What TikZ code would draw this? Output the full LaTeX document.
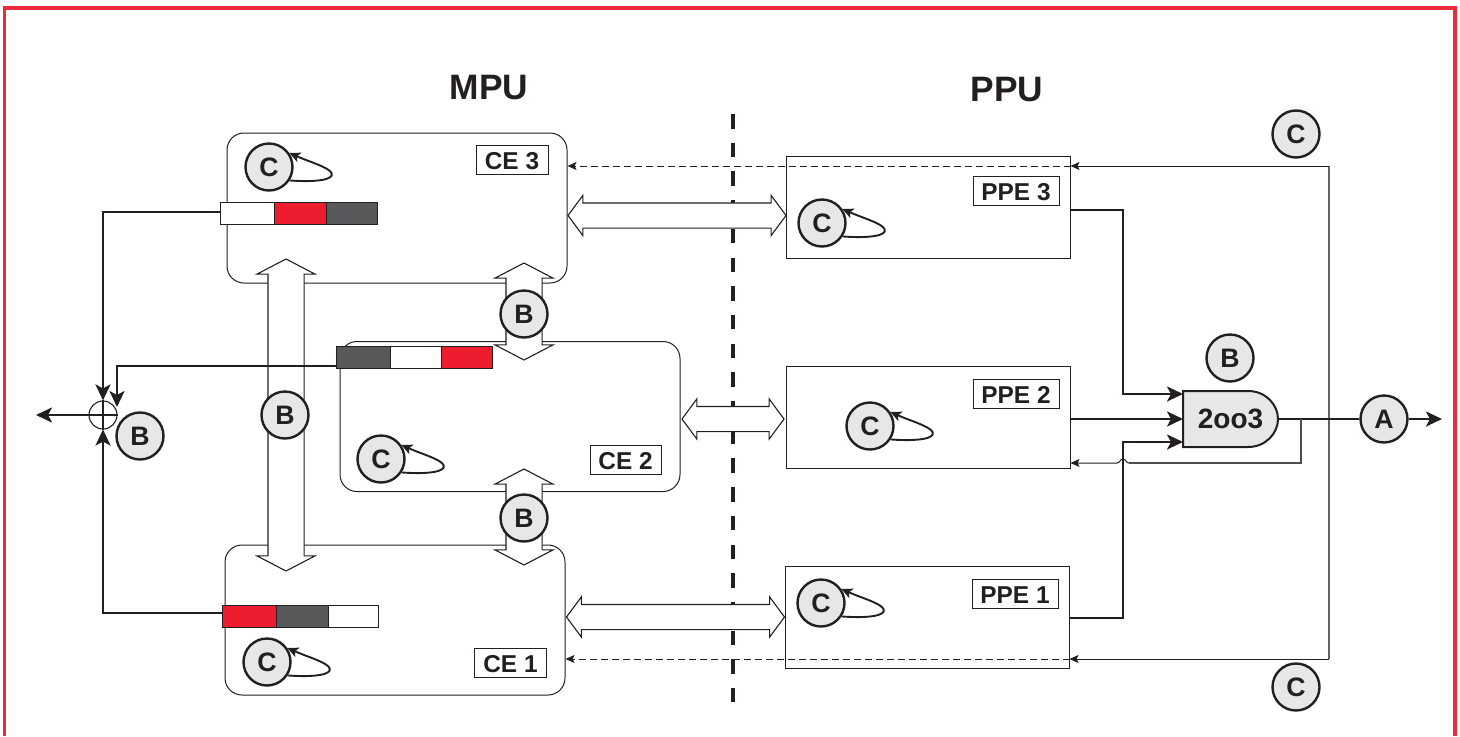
\documentclass[tikz,border=0pt]{standalone}
\usepackage{fontspec}
\setmainfont{Liberation Sans}
\usetikzlibrary{arrows.meta,shapes.arrows}
\definecolor{brdred}{HTML}{ED2A3A}
\definecolor{barred}{HTML}{ED1C2E}
\definecolor{bargrey}{HTML}{58595B}
\definecolor{badgegrey}{HTML}{E6E7E8}
\definecolor{inkk}{HTML}{231F20}
\def\U{*0.75pt}
\tikzset{
  x=0.75pt,y=-0.75pt,
  every node/.style={text=inkk},
  ce/.style={draw=inkk,line width=1\U,rounded corners=17\U,inner sep=0pt,minimum width=340\U,minimum height=150\U},
  ppe/.style={draw=inkk,line width=1\U,inner sep=0pt,minimum width=284\U,minimum height=102\U},
  tag/.style={draw=inkk,line width=1\U,fill=white,inner sep=0pt,minimum height=29\U,text height=14.6pt,text depth=0pt,font=\fontsize{18.3pt}{18pt}\selectfont\bfseries},
  badge/.style={circle,draw=inkk,line width=2.4\U,fill=badgegrey,inner sep=0pt,minimum size=47\U,font=\fontsize{20pt}{20pt}\selectfont\bfseries},
  seg/.style={draw=inkk,line width=1\U,inner sep=0pt,outer sep=0pt,minimum width=#1\U,minimum height=22\U},
  title/.style={font=\fontsize{26.5pt}{26pt}\selectfont\bfseries},
  blockarrow/.style={double arrow,draw=inkk,line width=1.1\U,fill=white,inner xsep=0pt,outer sep=0pt},
  harrow/.style={blockarrow,inner ysep=12\U,minimum height=#1\U,minimum width=39\U,double arrow head extend=7.5\U,double arrow tip angle=107},
  varrow/.style={blockarrow,inner ysep=17.5\U,rotate=90,minimum height=#1\U,minimum width=58\U,double arrow head extend=11\U,double arrow tip angle=125},
  power/.style={draw=inkk,line width=2.6\U,-{Stealth[length=16\U,width=15\U,inset=4\U]}},
  feed/.style={draw=inkk,line width=1\U,-{Stealth[length=9\U,width=8\U,inset=2\U]}},
  feeddash/.style={feed,line width=0.9\U,dash pattern=on 7\U off 4\U},
  loopline/.style={draw=inkk,line width=1.9\U,-{Stealth[length=11\U,width=10\U,inset=2.5\U]}},
}
\newcommand{\selfloop}[1]{\draw[loopline] (#1.-33) .. controls +(28,2) and +(2,6) .. +(42,-7) .. controls +(-2,-6) and +(20,9) .. (#1.35);}
\begin{document}
\begin{tikzpicture}
\useasboundingbox (0,0) rectangle (1460,736);
% frame
\coordinate (fa) at (4.5,736);
\coordinate (fb) at (1455,736);
\draw[brdred,line width=3.2\U] (fa) |- (1455,8) -- (fb);
% divider
\coordinate (da) at (733,114);
\coordinate (db) at (733,702);
\draw[inkk,line width=4\U,dash pattern=on 14.5\U off 14.2\U] (da) -- (db);
% titles
\node[title] (mpu) at (489,88) {MPU};
\node[title] (ppu) at (1007,90) {PPU};
% CE boxes
\node[ce] (ce3) at (397,208) {};
\node[ce] (ce2) at (510,416.5) {};
\node[ce] (ce1) at (395,620) {};
% PPE boxes
\node[ppe] (ppe3) at (928,207) {};
\node[ppe] (ppe2) at (928,417) {};
\node[ppe] (ppe1) at (927,617) {};
% feedback rails
\coordinate (railt) at (1329,166);
\coordinate (railb) at (1329,659);
\draw[inkk!70,line width=1.3\U] (railt) -- (railb);
\draw[feed] (railt) -- (ppe3.east |- railt);
\draw[feed] (railb) -- (ppe1.east |- railb);
\draw[feeddash] (ppe3.east |- railt) -- (ce3.east |- railt);
\draw[feeddash] (ppe1.east |- railb) -- (ce1.east |- railb);
% block arrows
\node[harrow=218] (h3) at (677,215.5) {};
\node[harrow=218] (h1) at (675.5,617) {};
\node[harrow=102] (h2) at (733,419) {};
\node[varrow=312] (v0) at (286,415) {};
\node[varrow=97] (v32) at (524,311.5) {};
\node[varrow=96] (v21) at (524,517) {};
% tags
\node[tag,minimum width=72\U] (t3) at (512,159.5) {CE 3};
\node[tag,minimum width=71\U] (t2) at (625.5,459.5) {CE 2};
\node[tag,minimum width=72\U] (t1) at (510.5,662.5) {CE 1};
\node[tag,minimum width=86\U] (p3) at (1016,191) {PPE 3};
\node[tag,minimum width=86\U] (p2) at (1016,394) {PPE 2};
\node[tag,minimum width=86\U] (p1) at (1015,594) {PPE 1};
% gate
\draw[draw=inkk,line width=2\U,fill=badgegrey] (1183,391) -- (1248,391) .. controls (1266,391) and (1278,405) .. (1278,419) .. controls (1278,433) and (1266,447) .. (1248,447) -- (1183,447) -- cycle;
\node[inner sep=0pt,minimum width=95\U,minimum height=56\U,font=\fontsize{21pt}{21pt}\selectfont\bfseries] (gate) at (1230.5,419) {2oo3};
% voter outputs
\coordinate (g3) at (1183,394);
\coordinate (g2) at (1183,419);
\coordinate (g1) at (1183,442);
\coordinate (j3) at (1123,210);
\coordinate (j1) at (1123,618);
\draw[power] (ppe3.east |- j3) -- (j3) -- (j3 |- g3) -- (g3);
\draw[power] (ppe2.east |- g2) -- (g2);
\draw[power] (ppe1.east |- j1) -- (j1) -- (j1 |- g1) -- (g1);
% output
\node[badge] (A) at (1384,419) {A};
\coordinate (out) at (1442,419);
\draw[draw=inkk,line width=2.6\U] (gate.east) -- (A.west);
\draw[power] (A.east) -- (out);
% voter feedback
\coordinate (fk) at (1301,419);
\coordinate (fl) at (1301,463);
\draw[draw=inkk!80,line width=1.3\U] (fk) -- (fl) -- (1129,463);
\draw[feed] (1129,463) .. controls (1126,463) and (1126,459) .. (1123,459) .. controls (1120,459) and (1120,463) .. (1117,463) -- (ppe2.east |- fl);
% bars
\node[seg=54,anchor=north west,fill=white] (b31) at (220,202) {};
\node[seg=52,anchor=west,fill=barred] (b32) at (b31.east) {};
\node[seg=51,anchor=west,fill=bargrey] (b33) at (b32.east) {};
\node[seg=54,anchor=north west,fill=bargrey] (b21) at (336,346) {};
\node[seg=51,anchor=west,fill=white] (b22) at (b21.east) {};
\node[seg=51,anchor=west,fill=barred] (b23) at (b22.east) {};
\node[seg=54,anchor=north west,fill=barred] (b11) at (222,605) {};
\node[seg=52,anchor=west,fill=bargrey] (b12) at (b11.east) {};
\node[seg=50,anchor=west,fill=white] (b13) at (b12.east) {};
% sum junction
\node[circle,draw=inkk,line width=1.1\U,inner sep=0pt,minimum size=28\U] (sum) at (103,415) {};
\draw[draw=inkk,line width=1.1\U] (sum.north) -- (sum.south);
\draw[draw=inkk,line width=1.1\U] (sum.west) -- (sum.east);
\coordinate (sout) at (36,415);
\draw[power] (sum.west) -- (sout);
\coordinate (c3) at (103,212);
\coordinate (c2) at (117,366);
\coordinate (c1) at (103,613);
\coordinate (c2e) at (117,407);
\draw[power] (b31.west |- c3) -- (c3) -- (sum.north);
\draw[power] (b21.west |- c2) -- (c2) -- (c2e);
\draw[power] (b11.west |- c1) -- (c1) -- (sum.south);
% badges
\node[badge] (cc3) at (269,167) {C};
\node[badge] (cc2) at (381,459) {C};
\node[badge] (cc1) at (267,662) {C};
\node[badge] (cp3) at (822,223) {C};
\node[badge] (cp2) at (870,426) {C};
\node[badge] (cp1) at (821,603) {C};
\node[badge] (ct) at (1296,134) {C};
\node[badge] (cb) at (1296,687) {C};
\selfloop{cc3}
\selfloop{cc2}
\selfloop{cc1}
\selfloop{cp3}
\selfloop{cp2}
\selfloop{cp1}
\node[badge] (b1) at (524,314) {B};
\node[badge] (b2) at (285,415) {B};
\node[badge] (b3) at (140,436) {B};
\node[badge] (b4) at (524,518) {B};
\node[badge] (b5) at (1230,358) {B};
\end{tikzpicture}
\end{document}
